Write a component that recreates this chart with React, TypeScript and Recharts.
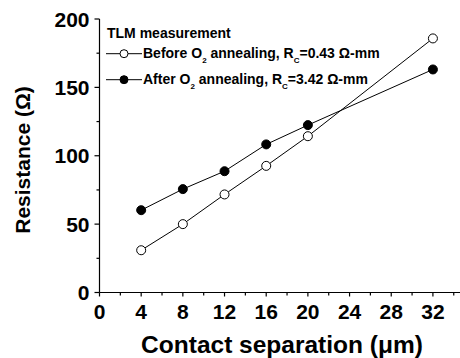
import { LineChart, Line, XAxis, YAxis, Legend, Label } from "recharts"

const separations = [4, 8, 12, 16, 20, 32]
const beforeAnneal = [30.9, 50, 71.7, 92.6, 114.3, 185.8]
const afterAnneal = [60.2, 75.6, 88.7, 108.3, 122.4, 163.1]
const xTicks = [0, 2, 4, 6, 8, 10, 12, 14, 16, 18, 20, 22, 24, 26, 28, 30, 32, 34]
const yTicks = [0, 25, 50, 75, 100, 125, 150, 175, 200]

const data = separations.map((x, i) => ({ x, before: beforeAnneal[i], after: afterAnneal[i] }))

const FONT = "'Liberation Sans', Arial, sans-serif"

const BottomTick = ({ x, y, payload }: any) => {
  const major = payload.value % 4 === 0
  return (
    <g>
      <line x1={x} x2={x} y1={y} y2={y + (major ? 4 : 3)} stroke="#000" strokeWidth={1.2} />
      {major && (
        <text x={x} y={y + 26} textAnchor="middle" fontFamily={FONT} fontWeight="bold" fontSize={21} fill="#000">
          {payload.value}
        </text>
      )}
    </g>
  )
}

const TopTick = ({ x, y }: any) => <line x1={x} x2={x} y1={y} y2={y + 2} stroke="#000" strokeWidth={1.5} />

const LeftTick = ({ x, y, payload }: any) => {
  const major = payload.value % 50 === 0
  return (
    <g>
      <line x1={x} x2={x - (major ? 5 : 3)} y1={y} y2={y} stroke="#000" strokeWidth={1.2} />
      {major && (
        <text x={x - 10} y={y} dy="0.36em" textAnchor="end" fontFamily={FONT} fontWeight="bold" fontSize={21} fill="#000">
          {payload.value}
        </text>
      )}
    </g>
  )
}

const makeDot = (fill: string) => (props: any) => (
  <circle key={props.index} cx={props.cx} cy={props.cy} r={4.5} fill={fill} stroke="#000" strokeWidth={1} />
)

const sub = { fontSize: 8, position: "relative" as const, top: 5 }

const LegendRow = ({ top, fill, children }: any) => (
  <div style={{ position: "absolute", left: 0, top, height: 16, lineHeight: "16px", whiteSpace: "nowrap" }}>
    <svg width={36} height={16} style={{ position: "absolute", left: 0, top: 0 }}>
      <line x1={0} x2={36} y1={8.7} y2={8.7} stroke="#000" strokeWidth={1} />
      <circle cx={18} cy={8.7} r={4} fill={fill} stroke="#000" strokeWidth={1} />
    </svg>
    <span style={{ position: "absolute", left: 37 }}>{children}</span>
  </div>
)

const LegendBox = () => (
  <div style={{ position: "relative", width: 300, height: 90, fontFamily: FONT, fontWeight: "bold", fontSize: 14, color: "#000" }}>
    <div style={{ position: "absolute", left: 1, top: 0, lineHeight: "16px" }}>TLM measurement</div>
    <LegendRow top={20.6} fill="#fff">
      Before O<span style={sub}>2</span> annealing, R<span style={sub}>C</span>=0.43 Ω-mm
    </LegendRow>
    <LegendRow top={46.6} fill="#000">
      After O<span style={sub}>2</span> annealing, R<span style={sub}>C</span>=3.42 Ω-mm
    </LegendRow>
  </div>
)

export default function App() {
  return (
    <div style={{ position: "absolute", left: 0, top: 0, width: 460, height: 358, background: "#fff" }}>
      <LineChart width={460} height={358} data={data} margin={{ top: 19, right: 0, bottom: 0, left: 0 }}>
        <XAxis
          dataKey="x"
          type="number"
          domain={[0, 34.6]}
          ticks={xTicks}
          interval={0}
          allowDataOverflow
          height={65.5}
          tickSize={0}
          tickMargin={0}
          tickLine={false}
          tick={<BottomTick />}
          stroke="#000"
          strokeWidth={1.2}
        >
          <Label
            content={() => (
              <text x={282} y={353} textAnchor="middle" fontFamily={FONT} fontWeight="bold" fontSize={24.5} fill="#000">
                Contact separation (μm)
              </text>
            )}
          />
        </XAxis>
        <XAxis
          xAxisId="top"
          orientation="top"
          dataKey="x"
          type="number"
          domain={[0, 34.6]}
          ticks={xTicks}
          interval={0}
          allowDataOverflow
          height={0}
          tickSize={0}
          tickMargin={0}
          tickLine={false}
          tick={<TopTick />}
          stroke="#000"
          strokeWidth={1.5}
        />
        <YAxis
          type="number"
          domain={[0, 200]}
          ticks={yTicks}
          interval={0}
          width={99.5}
          tickSize={0}
          tickMargin={0}
          tickLine={false}
          tick={<LeftTick />}
          stroke="#000"
          strokeWidth={1.2}
        >
          <Label
            content={() => (
              <text
                x={30}
                y={160}
                transform="rotate(-90 30 160)"
                textAnchor="middle"
                fontFamily={FONT}
                fontWeight="bold"
                fontSize={21}
                fill="#000"
              >
                Resistance (Ω)
              </text>
            )}
          />
        </YAxis>
        <Legend
          layout="vertical"
          align="center"
          verticalAlign="middle"
          wrapperStyle={{ left: 106, top: 24.8, width: 300, height: 90 }}
          content={() => <LegendBox />}
        />
        <Line
          dataKey="before"
          stroke="#000"
          strokeWidth={1}
          dot={makeDot("#fff")}
          activeDot={false}
          isAnimationActive={false}
        />
        <Line
          dataKey="after"
          stroke="#000"
          strokeWidth={1}
          dot={makeDot("#000")}
          activeDot={false}
          isAnimationActive={false}
        />
      </LineChart>
    </div>
  )
}
